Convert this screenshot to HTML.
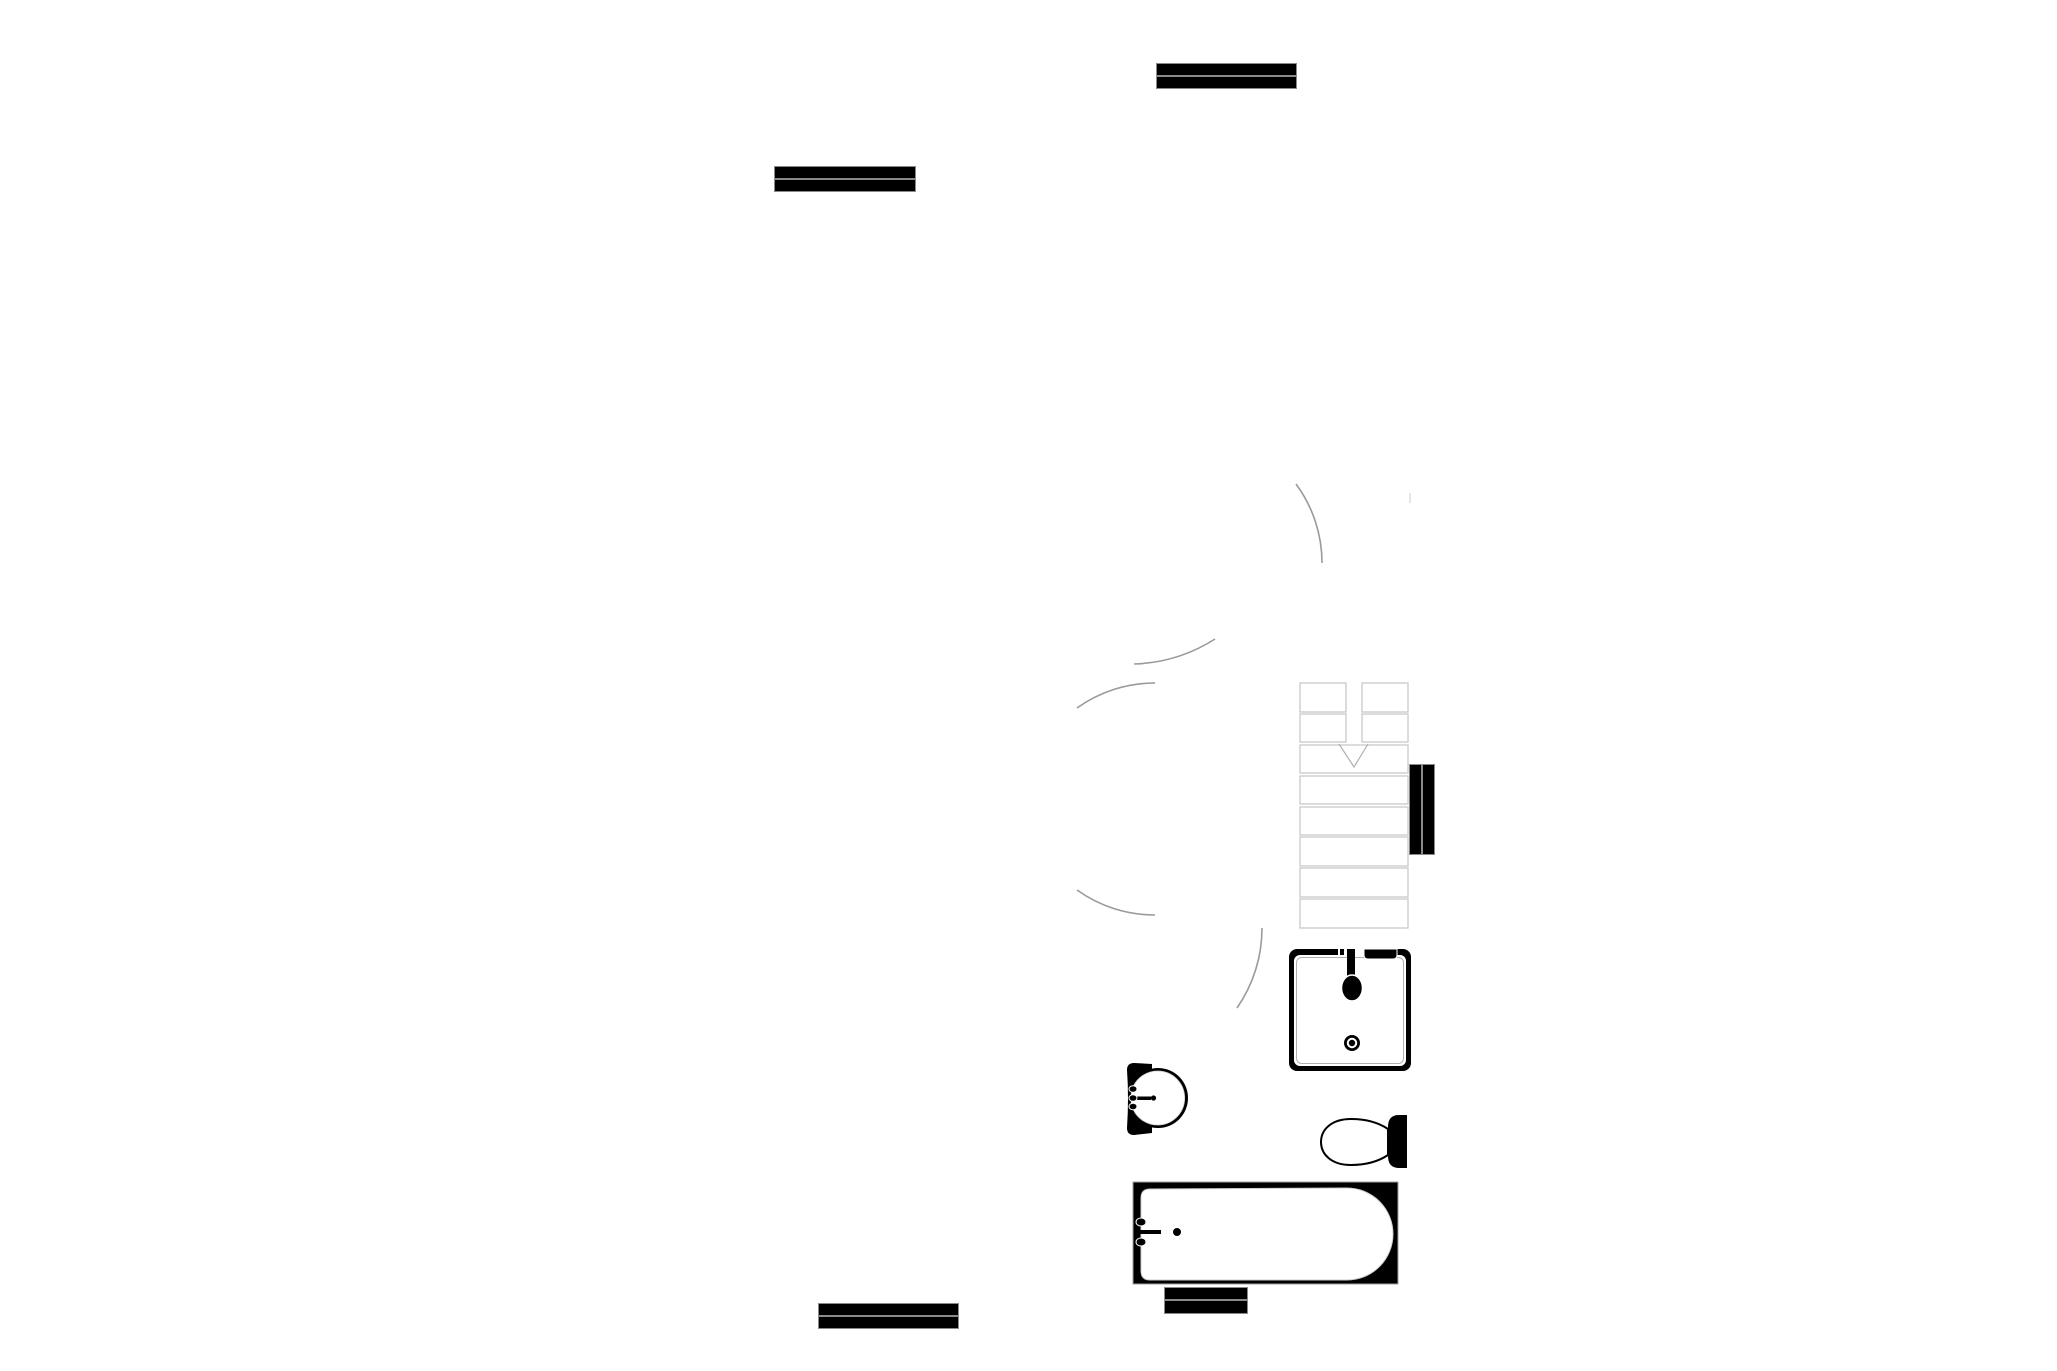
<!DOCTYPE html>
<html>
<head>
<meta charset="utf-8">
<style>
  html, body { margin: 0; padding: 0; background: #ffffff; }
  body { width: 2057px; height: 1371px; overflow: hidden; }
  svg { display: block; }
</style>
</head>
<body>
<svg width="2057" height="1371" viewBox="0 0 2057 1371" xmlns="http://www.w3.org/2000/svg">
  <rect x="0" y="0" width="2057" height="1371" fill="#ffffff"/>

  <!-- Double-stripe wall/window bars -->
  <g>
    <rect x="1156" y="63" width="141" height="26" fill="#8a8a8a"/>
    <rect x="1157" y="64" width="139" height="11" fill="#000"/>
    <rect x="1157" y="77" width="139" height="11" fill="#000"/>

    <rect x="774" y="166" width="142" height="26" fill="#8a8a8a"/>
    <rect x="775" y="167" width="140" height="11" fill="#000"/>
    <rect x="775" y="180" width="140" height="11" fill="#000"/>

    <rect x="818" y="1303" width="141" height="26" fill="#8a8a8a"/>
    <rect x="819" y="1304" width="139" height="11" fill="#000"/>
    <rect x="819" y="1317" width="139" height="11" fill="#000"/>

    <rect x="1164" y="1287" width="84" height="27" fill="#8a8a8a"/>
    <rect x="1165" y="1288" width="82" height="11" fill="#000"/>
    <rect x="1165" y="1301" width="82" height="12" fill="#000"/>

    <rect x="1409" y="764" width="26" height="91" fill="#8a8a8a"/>
    <rect x="1410" y="765" width="11" height="89" fill="#000"/>
    <rect x="1423" y="765" width="11" height="89" fill="#000"/>
  </g>

  <!-- Door swing arcs -->
  <g fill="none" stroke="#9a9a9a" stroke-width="1.6">
    <path d="M1296,484 A133,133 0 0 1 1322,563"/>
    <path d="M1134,664 A160,160 0 0 0 1215,639"/>
    <path d="M1077,708 A134,134 0 0 1 1155,683"/>
    <path d="M1077,890 A134,134 0 0 0 1155,915"/>
    <path d="M1262,928 A140,140 0 0 1 1237,1008"/>
  </g>
  <line x1="1410" y1="493" x2="1410" y2="503" stroke="#dddddd" stroke-width="1.5"/>

  <!-- Stairs -->
  <g fill="#ffffff" stroke="#c4c4c4" stroke-width="1.2">
    <rect x="1300" y="683" width="46" height="29"/>
    <rect x="1362" y="683" width="46" height="29"/>
    <rect x="1300" y="714" width="46" height="28"/>
    <rect x="1362" y="714" width="46" height="28"/>
    <rect x="1300" y="745" width="108" height="28"/>
    <rect x="1300" y="776" width="108" height="28"/>
    <rect x="1300" y="807" width="108" height="28"/>
    <rect x="1300" y="837" width="108" height="29"/>
    <rect x="1300" y="868" width="108" height="29"/>
    <rect x="1300" y="899" width="108" height="29"/>
  </g>
  <path d="M1339,744 L1354,767 L1368,744" fill="none" stroke="#b0b0b0" stroke-width="1.2"/>

  <!-- Shower tray -->
  <g>
    <rect x="1289" y="949" width="122" height="122" rx="8" ry="8" fill="#000"/>
    <rect x="1294" y="955" width="112" height="111" rx="6" ry="6" fill="#ffffff"/>
    <rect x="1296.5" y="957.5" width="107" height="106" rx="5" ry="5" fill="none" stroke="#b0b0b0" stroke-width="1"/>
    <rect x="1338" y="948" width="26" height="9" fill="#ffffff"/>
    <rect x="1340" y="949" width="4" height="6" fill="#000"/>
    <rect x="1347" y="949" width="8" height="30" fill="#000"/>
    <path d="M1364,949 L1397,949 L1397,955 Q1397,959 1393,959 L1368,959 Q1364,959 1364,955 Z" fill="#000" stroke="#ffffff" stroke-width="1"/>
    <ellipse cx="1352" cy="988" rx="10.5" ry="13" fill="#000" stroke="#ffffff" stroke-width="1.5"/>
    <circle cx="1352" cy="1043" r="8" fill="#000"/>
    <circle cx="1352" cy="1043" r="5.2" fill="#ffffff"/>
    <circle cx="1352" cy="1043" r="3.2" fill="#000"/>
  </g>

  <!-- Wash basin -->
  <g>
    <path d="M1127,1070 Q1127,1063 1134,1063 L1152,1064 L1152,1133 L1134,1135 Q1127,1135 1127,1128 Q1129,1098 1127,1070 Z" fill="#000"/>
    <circle cx="1158" cy="1098" r="30" fill="#000"/>
    <path d="M1142,1076 A27,27 0 1 1 1142,1120 Q1131,1112 1131,1098 Q1131,1084 1142,1076 Z" fill="#ffffff" stroke="#cfcfcf" stroke-width="0.8"/>
    <rect x="1133" y="1096.5" width="18" height="3.5" fill="#000"/>
    <ellipse cx="1133" cy="1089" rx="4" ry="3.3" fill="#000" stroke="#ffffff" stroke-width="1"/>
    <ellipse cx="1133" cy="1098" rx="4" ry="3.3" fill="#000" stroke="#ffffff" stroke-width="1"/>
    <ellipse cx="1133" cy="1106.5" rx="4" ry="3.3" fill="#000" stroke="#ffffff" stroke-width="1"/>
    <circle cx="1153.5" cy="1098" r="2.6" fill="#000"/>
  </g>

  <!-- Toilet -->
  <g>
    <path d="M1388,1129 C1376,1121 1362,1119 1351,1119 C1331,1119 1321,1130 1321,1142 C1321,1154 1331,1165 1351,1165 C1362,1165 1376,1163 1388,1155 Z" fill="#ffffff" stroke="#000" stroke-width="2"/>
    <path d="M1407,1115 L1399,1115 Q1388,1115 1388,1127 L1388,1156 Q1388,1168 1399,1168 L1407,1168 Z" fill="#000"/>
  </g>

  <!-- Bathtub -->
  <g>
    <rect x="1133" y="1182" width="265" height="102" fill="#000" stroke="#a0a0a0" stroke-width="1"/>
    <path d="M1150,1189 L1347,1188 A46,46 0 0 1 1347,1280 L1150,1280 Q1141,1280 1141,1271 L1141,1198 Q1141,1189 1150,1189 Z" fill="#ffffff" stroke="#cccccc" stroke-width="1"/>
    <rect x="1140" y="1230" width="21" height="4" fill="#000"/>
    <ellipse cx="1141" cy="1222" rx="5" ry="4" fill="#000" stroke="#ffffff" stroke-width="1"/>
    <ellipse cx="1141" cy="1242" rx="5" ry="4" fill="#000" stroke="#ffffff" stroke-width="1"/>
    <circle cx="1177" cy="1232" r="4.5" fill="#000" stroke="#ffffff" stroke-width="1"/>
  </g>
</svg>
</body>
</html>
